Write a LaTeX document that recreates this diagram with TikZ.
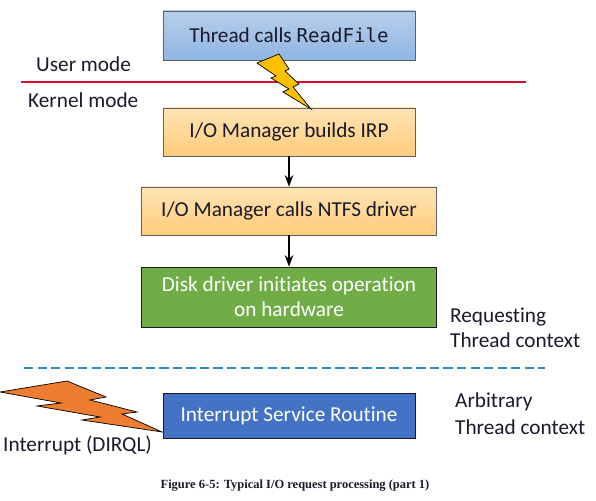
\documentclass[tikz,border=0pt]{standalone}
\usepackage{fontspec}
\setmainfont[Ligatures=NoCommon]{Carlito}
\setmonofont[Scale=0.9]{DejaVu Sans Mono}
\newfontfamily\captionserif{Liberation Serif}
\usepackage{xcolor}
\usetikzlibrary{arrows.meta}
\definecolor{AccentBlue}{HTML}{4472C4}
\definecolor{AccentGreen}{HTML}{70AD47}
\definecolor{AccentOrange}{HTML}{ED7D31}
\definecolor{AccentGold}{HTML}{FFC000}
\definecolor{AccentRed}{HTML}{D6102C}
\definecolor{AccentDash}{HTML}{2E8BC8}
\definecolor{SkyTop}{HTML}{B8CEEA}
\definecolor{SkyBot}{HTML}{8FB6E2}
\definecolor{SandTop}{HTML}{FFE4B4}
\definecolor{SandBot}{HTML}{FFCC7A}
\definecolor{TextDark}{HTML}{1A1A2A}

\begin{document}
\begin{tikzpicture}[
        every node/.style={font=\fontsize{12.1}{14.2}\selectfont, text=TextDark},
        UM/.style={draw=TextDark!70, top color=SkyTop, bottom color=SkyBot,
            minimum height=9.8mm, minimum width=50.4mm, align=center},
        IO/.style={draw=TextDark!70, top color=SandTop, bottom color=SandBot,
            minimum height=9.6mm, minimum width=50.4mm, align=center},
        HW/.style={draw=TextDark, fill=AccentGreen,
            minimum height=12mm, minimum width=59mm, align=center, text=white},
        IS/.style={draw=TextDark, fill=AccentBlue,
            minimum height=9mm, minimum width=50.4mm, align=center, text=white},
        LB/.style={anchor=west, align=left},
        arr/.style={-Stealth, thick, black},
        bolt/.style={draw=black, line join=miter},
      ]
      \useasboundingbox (0,0) rectangle (11.92,10.02);

      % Main nodes
      \node[UM] (thread) at (5.78, 9.31) {Thread calls \texttt{ReadFile}};
      \node[IO] (irp)    at (5.78, 7.38) {I/O Manager builds IRP};
      \node[IO, minimum width=59mm] (ntfs) at (5.78, 5.80) {I/O Manager calls NTFS driver};
      \node[HW] (disk)   at (5.78, 4.08) {Disk driver initiates operation\\on hardware};

      % Divider helper coordinates
      \coordinate (modeL) at (0.42, 8.38);
      \coordinate (modeR) at (10.52, 8.38);
      \coordinate (ctxL)  at (0.48, 2.66);
      \coordinate (ctxR)  at (10.90, 2.66);

      % Dividers
      \draw[AccentRed, thick] (modeL) -- (modeR);
      \draw[AccentDash, thick, dash pattern=on 5.3pt off 2.4pt] (ctxL) -- (ctxR);

      % Bolts
      \draw[bolt, fill=AccentGold] (5.14,8.76) -- (5.58,8.94) -- (5.78,8.64) -- (5.70,8.60)
        -- (5.98,8.34) -- (5.86,8.28) -- (6.22,7.84) -- (5.66,8.18) -- (5.78,8.24)
        -- (5.42,8.46) -- (5.52,8.50) -- cycle;
      \draw[bolt, fill=AccentOrange] (0,2.18) -- (1.34,2.40) -- (2.12,2.08) -- (1.80,2.02)
        -- (2.74,1.78) -- (2.44,1.74) -- (3.24,1.38) -- (1.64,1.62) -- (2.00,1.68)
        -- (0.74,1.90) -- (1.22,1.96) -- cycle;

      \node[IS] (isr) at (5.78, 1.71) {Interrupt Service Routine};

      % Arrows
      \draw[arr] (irp.south) -- (ntfs.north);
      \draw[arr] (ntfs.south) -- (disk.north);

      % Labels
      \node[LB] (user)   at (0.60, 8.74) {User mode};
      \node[LB] (kernel) at (0.44, 8.02) {Kernel mode};
      \node[LB] (reqctx) at (8.88, 3.47) {Requesting\\Thread context};
      \node[LB] (arbctx) at (8.98, 1.75) {Arbitrary\\[1.1pt]Thread context};
      \node[LB] (dirql)  at (-0.06, 1.12) {Interrupt (DIRQL)};
      \node[font=\captionserif\bfseries\fontsize{7.1}{8}\selectfont] (fig) at (5.90, 0.31)
        {Figure 6-5: Typical I/O request processing (part 1)};
    \end{tikzpicture}
\end{document}
